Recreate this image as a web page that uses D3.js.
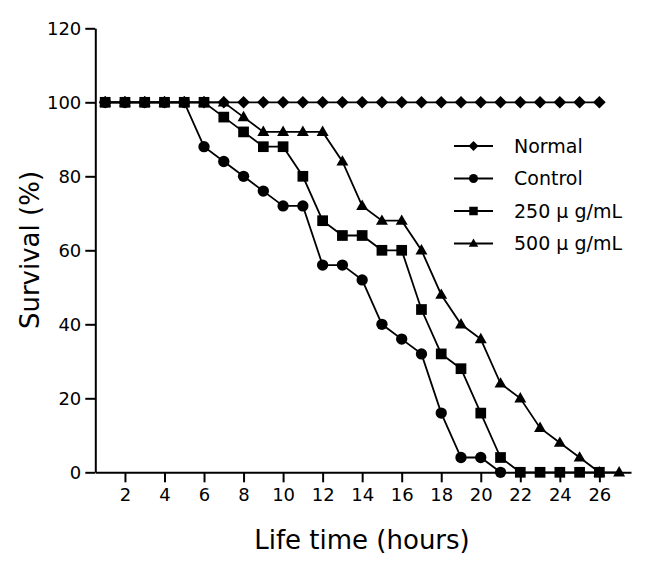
<!DOCTYPE html>
<html>
<head>
<meta charset="utf-8">
<script src="https://cdn.jsdelivr.net/npm/d3@7"></script>
<style>
  html, body { margin: 0; padding: 0; background: #fff; }
  svg { display: block; font-family: "DejaVu Sans", Verdana, sans-serif; }
</style>
</head>
<body>
<svg id="chart" width="654" height="564"></svg>
<script>
// ---- data ----
const hours = [1,2,3,4,5,6,7,8,9,10,11,12,13,14,15,16,17,18,19,20,21,22,23,24,25,26,27];
const normal   = [100,100,100,100,100,100,100,100,100,100,100,100,100,100,100,100,100,100,100,100,100,100,100,100,100,100];
const control  = [100,100,100,100,100,88,84,80,76,72,72,56,56,52,40,36,32,16,4,4,0];
const dose250  = [100,100,100,100,100,100,96,92,88,88,80,68,64,64,60,60,44,32,28,16,4,0,0,0,0,0];
const dose500  = [100,100,100,100,100,100,100,96,92,92,92,92,84,72,68,68,60,48,40,36,24,20,12,8,4,0,0];
const seriesNames = ["Normal", "Control", "250 \u03bc g/mL", "500 \u03bc g/mL"];
const xTicks = [2,4,6,8,10,12,14,16,18,20,22,24,26];
const yTicks = [0,20,40,60,80,100,120];

const seriesValues = [normal, control, dose250, dose500];
const shapes = ["diamond", "circle", "square", "triangle"];

const svg = d3.select("#chart");
const x = d3.scaleLinear().domain([0.5, 27.6]).range([95.3, 631]);
const y = d3.scaleLinear().domain([0, 120]).range([472.3, 28.3]);

function markerPath(shape, s) {
  const p = d3.path();
  if (shape === "diamond") {
    p.moveTo(0, -s); p.lineTo(s, 0); p.lineTo(0, s); p.lineTo(-s, 0); p.closePath();
  } else if (shape === "square") {
    p.rect(-s * 0.85, -s * 0.85, s * 1.7, s * 1.7);
  } else if (shape === "triangle") {
    p.moveTo(0, -s); p.lineTo(s * 0.95, s * 0.65); p.lineTo(-s * 0.95, s * 0.65); p.closePath();
  } else {
    p.arc(0, 0, s * 0.9, 0, 2 * Math.PI);
  }
  return p.toString();
}

// axes
const xAxis = d3.axisBottom(x).tickValues(xTicks).tickSize(10).tickPadding(6).tickSizeOuter(0);
const gx = svg.append("g").attr("transform", `translate(0,${y(0)})`).call(xAxis);
gx.select(".domain").attr("stroke", "#000").attr("stroke-width", 2);
gx.selectAll(".tick line").attr("stroke", "#000").attr("stroke-width", 2);
gx.selectAll(".tick text").attr("font-size", 18).attr("fill", "#000")
  .attr("font-family", "DejaVu Sans, Verdana, sans-serif");

const yAxis = d3.axisLeft(y).tickValues(yTicks).tickSize(10).tickPadding(4).tickSizeOuter(0);
const gy = svg.append("g").attr("transform", `translate(${x(0.5)},0)`).call(yAxis);
gy.select(".domain").attr("stroke", "#000").attr("stroke-width", 2);
gy.selectAll(".tick line").attr("stroke", "#000").attr("stroke-width", 2);
gy.selectAll(".tick text").attr("font-size", 18).attr("fill", "#000")
  .attr("font-family", "DejaVu Sans, Verdana, sans-serif");

// series
const line = d3.line().x(d => x(d.h)).y(d => y(d.v));
seriesValues.forEach((vals, i) => {
  const pts = vals.map((v, k) => ({ h: hours[k], v }));
  const g = svg.append("g");
  g.append("path").datum(pts).attr("d", line)
    .attr("fill", "none").attr("stroke", "#000").attr("stroke-width", 1.8);
  g.selectAll("path.m").data(pts).enter().append("path").attr("class", "m")
    .attr("transform", d => `translate(${x(d.h)},${y(d.v)})`)
    .attr("d", markerPath(shapes[i], 6.3))
    .attr("fill", "#000");
});

// legend
const legend = svg.append("g").attr("transform", "translate(454,146)");
seriesNames.forEach((name, i) => {
  const row = legend.append("g").attr("transform", `translate(0,${i * 32.5})`);
  row.append("line").attr("x1", 0).attr("x2", 39).attr("y1", 0).attr("y2", 0)
    .attr("stroke", "#000").attr("stroke-width", 1.8);
  row.append("path").attr("transform", "translate(19.5,0)")
    .attr("d", markerPath(shapes[i], 5)).attr("fill", "#000");
  row.append("text").attr("x", 60).attr("y", 0).attr("dy", "0.36em")
    .attr("font-size", 19).attr("fill", "#000").text(name);
});

// axis titles
svg.append("text").attr("x", 362).attr("y", 549).attr("text-anchor", "middle")
  .attr("font-size", 26).attr("fill", "#000").text("Life time (hours)");
svg.append("text").attr("transform", "translate(39,250) rotate(-90)")
  .attr("text-anchor", "middle").attr("font-size", 26).attr("fill", "#000").text("Survival (%)");
</script>
</body>
</html>
